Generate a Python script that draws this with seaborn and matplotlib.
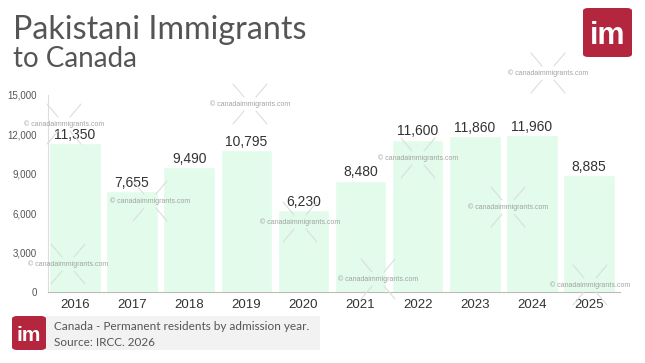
import matplotlib
matplotlib.use("Agg")
import matplotlib.pyplot as plt
import seaborn as sns
import pandas as pd
from matplotlib.patches import FancyBboxPatch, Rectangle
from matplotlib.lines import Line2D

years = ["2016", "2017", "2018", "2019", "2020", "2021", "2022", "2023", "2024", "2025"]
residents = [11350, 7655, 9490, 10795, 6230, 8480, 11600, 11860, 11960, 8885]
y_ticks = [0, 3000, 6000, 9000, 12000, 15000]

title = "Pakistani Immigrants"
subtitle = "to Canada"
footer_1 = "Canada - Permanent residents by admission year."
footer_2 = "Source: IRCC. 2026"
watermark = "\u00a9 canadaimmigrants.com"

df = pd.DataFrame({"Year": years, "Residents": residents})

sns.set_theme(style="white")
plt.rcParams["font.family"] = ["Liberation Sans", "DejaVu Sans"]

W, H = 645, 363
fig = plt.figure(figsize=(W / 100, H / 100), dpi=100)
ax = fig.add_axes([48 / W, 71 / H, (620 - 48) / W, (292 - 95) / H])

sns.barplot(data=df, x="Year", y="Residents", color="#e2fbea", width=0.9,
            saturation=1, ax=ax)

ax.set_ylim(0, 15000)
ax.set_xlim(-0.47, 9.54)
ax.set_yticks(y_ticks)
ax.set_yticklabels([f"{v:,}" for v in y_ticks], fontsize=7, color="#555555")
ax.tick_params(axis="x", labelsize=9.5, colors="#333333", length=0, pad=5)
ax.tick_params(axis="y", length=0, pad=8)
ax.set_xlabel("")
ax.set_ylabel("")
for s in ["top", "right"]:
    ax.spines[s].set_visible(False)
ax.spines["left"].set_color("#dddddd")
ax.spines["bottom"].set_color("#bbbbbb")
ax.spines["left"].set_linewidth(0.8)
ax.spines["bottom"].set_linewidth(0.8)

for i, v in enumerate(residents):
    ax.annotate(f"{v:,}", (i, v), xytext=(0, 1), textcoords="offset points",
                ha="center", va="bottom", fontsize=10, color="#333333")

# watermarks
marks = [(64, 124), (68, 264), (250, 104), (150, 201), (300, 222),
         (378, 279), (418, 158), (508, 207), (590, 285), (548, 73)]
for cx, cy in marks:
    fx, fy = cx / W, 1 - cy / H
    fig.text(fx, fy, watermark, fontsize=5, color="#999999", ha="center",
             va="center", alpha=0.9)
    for dx, dy in [(-1, -1), (1, -1), (-1, 1), (1, 1)]:
        x0, y0 = cx + dx * 6, cy + dy * 7
        x1, y1 = cx + dx * 17, cy + dy * 20
        fig.add_artist(Line2D([x0 / W, x1 / W], [1 - y0 / H, 1 - y1 / H],
                              color="#dddddd", lw=0.8))

# title
fig.text(13 / W, 1 - 30 / H, title, fontsize=23.2, color="#555555",
         family=["Lato", "DejaVu Sans"], va="center")
fig.text(13 / W, 1 - 59 / H, subtitle, fontsize=20, color="#555555",
         family=["Lato", "DejaVu Sans"], va="center")


def logo(x, y, w, h, size):
    fig.add_artist(FancyBboxPatch((x / W, 1 - (y + h) / H), w / W, h / H,
                                  boxstyle="round,pad=0,rounding_size=0.008",
                                  transform=fig.transFigure,
                                  facecolor="#b3263d", edgecolor="none"))
    fig.text((x + w / 2) / W, 1 - (y + h * 0.58) / H, "im", fontsize=size,
             color="white", fontweight="bold", ha="center", va="center",
             family=["Liberation Sans", "DejaVu Sans"])


logo(583, 8, 49, 49, 22)

# footer
fig.add_artist(Rectangle((45 / W, 1 - 350 / H), 275 / W, 34 / H,
                         transform=fig.transFigure, facecolor="#f2f2f2",
                         edgecolor="none"))
logo(12, 316, 34, 34, 15)
fig.text(54 / W, 1 - 327 / H, footer_1, fontsize=8.5, color="#555555",
         family=["Lato", "DejaVu Sans"], va="center")
fig.text(54 / W, 1 - 342 / H, footer_2, fontsize=8.5, color="#555555",
         family=["Lato", "DejaVu Sans"], va="center")

fig.savefig("out.png", dpi=100)
